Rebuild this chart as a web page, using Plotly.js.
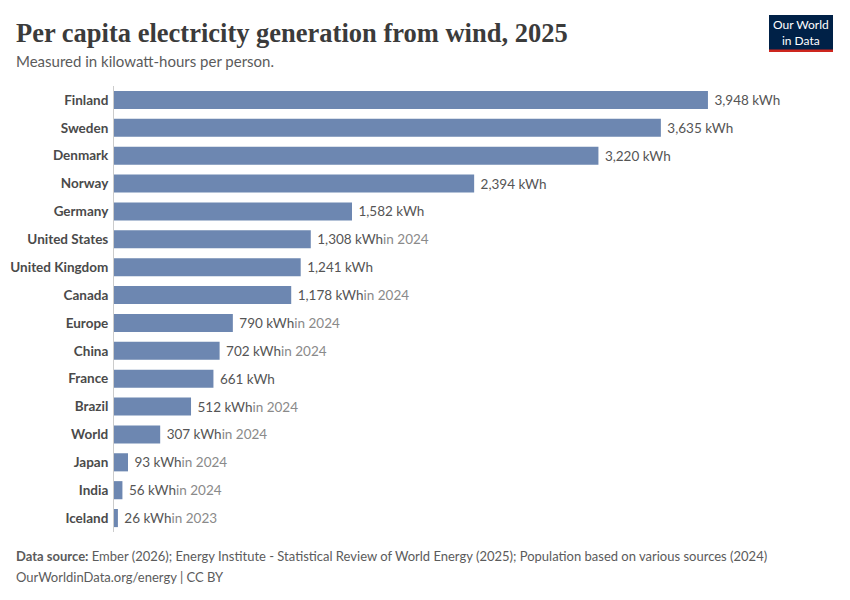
<!DOCTYPE html>
<html>
<head>
<meta charset="utf-8">
<script src="https://cdn.plot.ly/plotly-3.0.1.min.js"></script>
<style>html,body{margin:0;padding:0;background:#fff}</style>
</head>
<body>
<div id="chart" style="width:850px;height:600px"></div>
<script>
const countries = ["Finland","Sweden","Denmark","Norway","Germany","United States","United Kingdom","Canada","Europe","China","France","Brazil","World","Japan","India","Iceland"];
const values = [3948,3635,3220,2394,1582,1308,1241,1178,790,702,661,512,307,93,56,26];
const yearNotes = ["","","","","","in 2024","","in 2024","in 2024","in 2024","","in 2024","in 2024","in 2024","in 2024","in 2023"];

const labels = values.map((v,i) => '\u00a0' + v.toLocaleString('en-US') + ' kWh' + (yearNotes[i] ? '<span style="color:#8a8a8a">' + yearNotes[i] + '</span>' : ''));

const trace = {
  type: 'bar',
  orientation: 'h',
  x: values,
  y: countries,
  text: labels,
  textposition: 'outside',
  cliponaxis: false,
  textfont: {family: 'Lato', size: 13.5, color: '#555'},
  marker: {color: '#6d87b1'},
  hoverinfo: 'none'
};

const W = 677, H = 446, L = 114, B = 68;
const px = x => (x - L) / W;
const py = y => (600 - B - y) / H;

const layout = {
  width: 850, height: 600,
  margin: {l: L, r: 59, t: 86, b: B},
  paper_bgcolor: '#fff', plot_bgcolor: '#fff',
  showlegend: false,
  bargap: 0.35,
  font: {family: 'Lato', color: '#555'},
  xaxis: {range: [0, 4500], showgrid: false, zeroline: false, showticklabels: false, showline: false, fixedrange: true},
  yaxis: {autorange: 'reversed', showgrid: false, zeroline: false, showline: true, linecolor: '#cccccc', linewidth: 1,
          ticks: '', ticklabelstandoff: 2, tickfont: {family: 'Lato', size: 13.5, color: '#4a4a4a', weight: 'bold'}},
  title: {text: 'Per capita electricity generation from wind, 2025', xref: 'container', x: 16/850, xanchor: 'left', yref: 'container', y: 1 - 33/600, yanchor: 'middle', pad: {l: 0},
          font: {family: 'Liberation Serif, serif', size: 26.5, color: '#3b3b3b', weight: 'bold'}},
  annotations: [
    {xref: 'paper', yref: 'paper', x: px(14), y: py(61), xanchor: 'left', yanchor: 'middle', showarrow: false,
     text: 'Measured in kilowatt-hours per person.', font: {family: 'Lato', size: 15, color: '#5b5b5b'}},
    {xref: 'paper', yref: 'paper', x: px(14), y: py(556), xanchor: 'left', yanchor: 'middle', showarrow: false,
     text: '<b>Data source:</b> Ember (2026); Energy Institute - Statistical Review of World Energy (2025); Population based on various sources (2024)',
     font: {family: 'Lato', size: 13, color: '#5b5b5b'}},
    {xref: 'paper', yref: 'paper', x: px(14), y: py(577), xanchor: 'left', yanchor: 'middle', showarrow: false,
     text: 'OurWorldinData.org/energy | CC BY', font: {family: 'Lato', size: 13, color: '#5b5b5b'}},
    {xref: 'paper', yref: 'paper', x: px(801), y: py(32), xanchor: 'center', yanchor: 'middle', showarrow: false,
     text: 'Our World<br>in Data', font: {family: 'Lato', size: 12, color: '#fff'}}
  ],
  shapes: [
    {type: 'rect', xref: 'paper', yref: 'paper', x0: px(769), x1: px(833), y0: py(52), y1: py(15),
     fillcolor: '#002147', line: {width: 0}},
    {type: 'rect', xref: 'paper', yref: 'paper', x0: px(769), x1: px(833), y0: py(52), y1: py(49.5),
     fillcolor: '#ce261e', line: {width: 0}}
  ]
};

Plotly.newPlot('chart', [trace], layout, {displayModeBar: false, staticPlot: true});
</script>
</body>
</html>
